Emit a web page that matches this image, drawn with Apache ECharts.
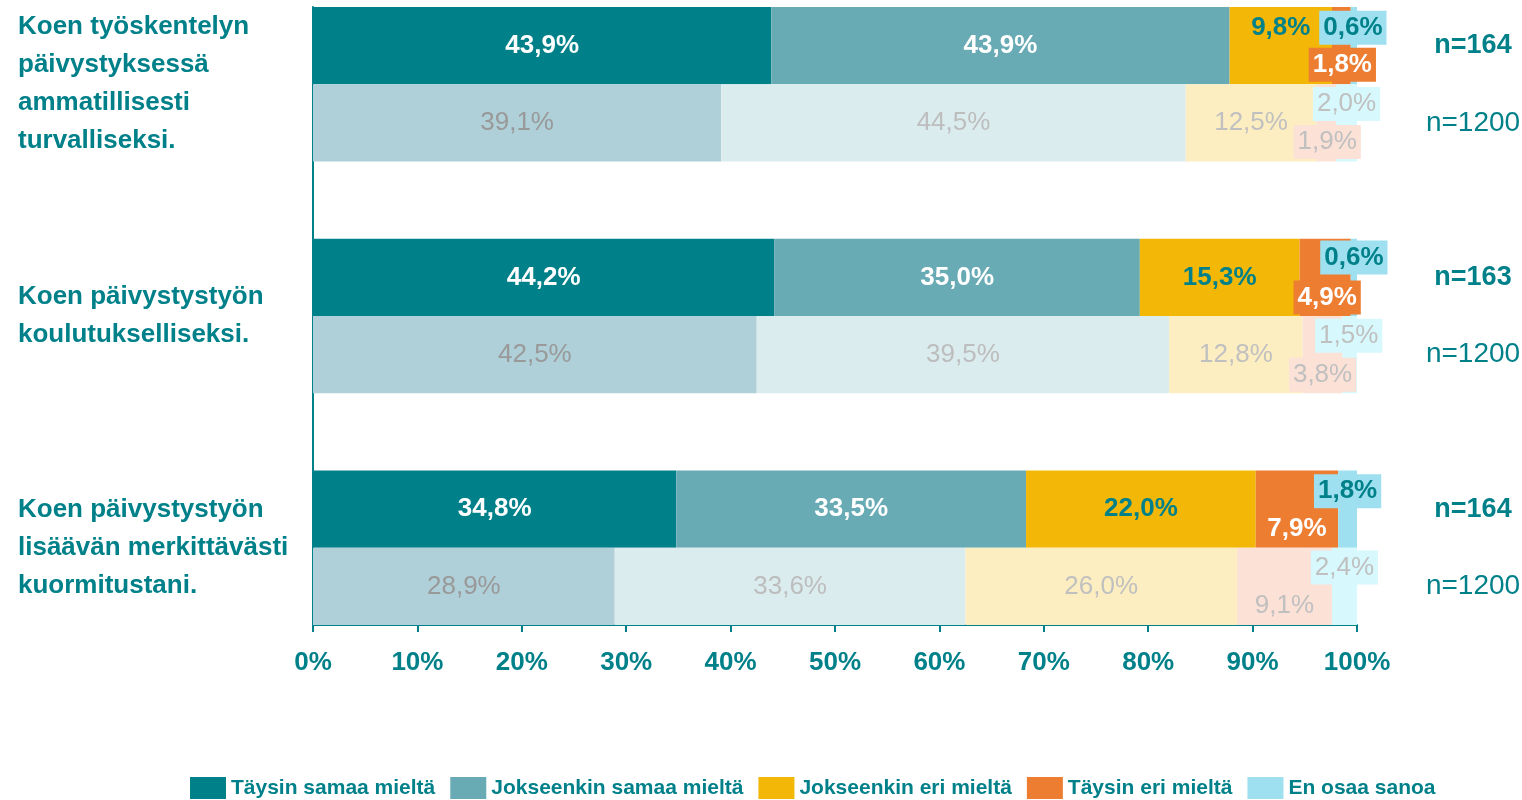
<!DOCTYPE html>
<html>
<head>
<meta charset="utf-8">
<script src="https://cdn.jsdelivr.net/npm/echarts@6/dist/echarts.min.js"></script>
<style>
html,body{margin:0;padding:0;background:#fff;}
#chart{width:1522px;height:800px;}
</style>
</head>
<body>
<div id="chart"></div>
<script>
// ---- data ----
const questions = [
  ['Koen työskentelyn', 'päivystyksessä', 'ammatillisesti', 'turvalliseksi.'],
  ['Koen päivystystyön', 'koulutukselliseksi.'],
  ['Koen päivystystyön', 'lisäävän merkittävästi', 'kuormitustani.']
];
const responses = ['Täysin samaa mieltä', 'Jokseenkin samaa mieltä', 'Jokseenkin eri mieltä', 'Täysin eri mieltä', 'En osaa sanoa'];
// study sample (dark bars)
const studyTaysinSamaa     = [43.9, 44.2, 34.8];
const studyJokseenkinSamaa = [43.9, 35.0, 33.5];
const studyJokseenkinEri   = [9.8, 15.3, 22.0];
const studyTaysinEri       = [1.8, 4.9, 7.9];
const studyEnOsaa          = [0.6, 0.6, 1.8];
const studyN = ['n=164', 'n=163', 'n=164'];
// reference sample (light bars)
const refTaysinSamaa     = [39.1, 42.5, 28.9];
const refJokseenkinSamaa = [44.5, 39.5, 33.6];
const refJokseenkinEri   = [12.5, 12.8, 26.0];
const refTaysinEri       = [1.9, 3.8, 9.1];
const refEnOsaa          = [2.0, 1.5, 2.4];
const refN = ['n=1200', 'n=1200', 'n=1200'];
const xTickValues = [0, 10, 20, 30, 40, 50, 60, 70, 80, 90, 100];

// ---- styles ----
const FONT = "'Liberation Sans Narrow','Arial Narrow','Liberation Sans',Arial,sans-serif";
const TEAL = '#00818A';
const darkColors  = ['#00818A', '#68ABB5', '#F3B707', '#ED7D31', '#9EE0F0'];
const lightColors = ['#AFD0D8', '#DBECEF', '#FDEEC1', '#FCE1D6', '#D7F8FC'];
const darkLabelColor = ['#fff', '#fff', TEAL, '#fff', TEAL];
const lightLabelColor = ['#999999', '#BDBDBD', '#C0C0C0', '#C0C0C0', '#C0C0C0'];
const darkLabelBg = [null, null, null, '#ED7D31', '#9EE0F0'];
const lightLabelBg = [null, null, null, '#FCE1D6', '#D7F8FC'];
// label offsets [series][group]
const darkOffsets = [
  [[0,0],[0,0],[0,0]],
  [[0,0],[0,0],[0,0]],
  [[0,-18],[0,0],[0,0]],
  [[1,19],[2,20],[0,20]],
  [[-1,-18],[0,-20],[0,-18]]
];
const lightOffsets = [
  [[0,0],[0,0],[0,0]],
  [[0,0],[0,0],[0,0]],
  [[0,0],[0,0],[0,0]],
  [[1,19],[0,20],[0,19]],
  [[0,-19],[-1,-19],[0,-19]]
];

const studySets = [studyTaysinSamaa, studyJokseenkinSamaa, studyJokseenkinEri, studyTaysinEri, studyEnOsaa];
const refSets = [refTaysinSamaa, refJokseenkinSamaa, refJokseenkinEri, refTaysinEri, refEnOsaa];

// category slots: study bar, reference bar, gap  (per question)
const slots = [];
const leftLabels = [];
const rightLabels = [];
questions.forEach((q, i) => {
  slots.push('s' + i, 'r' + i);
  // question text is placed on the study slot, pushed down by a spacer line
  leftLabels.push('{sp| }\n' + q.map(l => '{t|' + l + '}').join('\n'), '');
  rightLabels.push('{b|' + studyN[i] + '}', '{r|' + refN[i] + '}');
  if (i < questions.length - 1) { slots.push('g' + i); leftLabels.push(''); rightLabels.push(''); }
});

const fmt = v => v.toFixed(1).replace('.', ',') + '%';

function buildSeries(sets, isStudy) {
  return sets.map((vals, si) => {
    const data = slots.map(() => '-');
    vals.forEach((v, gi) => {
      const idx = gi * 3 + (isStudy ? 0 : 1);
      const off = (isStudy ? darkOffsets : lightOffsets)[si][gi];
      const bg = (isStudy ? darkLabelBg : lightLabelBg)[si];
      const lbl = { offset: off };
      if (bg) { lbl.backgroundColor = bg; lbl.padding = [1, 4, 1, 4]; }
      data[idx] = { value: v, label: lbl };
    });
    return {
      name: isStudy ? responses[si] : responses[si] + ' (n=1200)',
      type: 'bar',
      stack: 'total',
      barCategoryGap: 0,
      barGap: 0,
      itemStyle: { color: (isStudy ? darkColors : lightColors)[si] },
      label: {
        show: true,
        position: 'inside',
        formatter: p => fmt(p.value),
        fontFamily: FONT,
        fontSize: 26,
        lineHeight: 32,
        fontWeight: isStudy ? 'bold' : 'normal',
        color: isStudy ? darkLabelColor[si] : lightLabelColor[si]
      },
      emphasis: { disabled: true },
      data: data
    };
  });
}

const chart = echarts.init(document.getElementById('chart'), null, { renderer: 'canvas' });
chart.setOption({
  animation: false,
  backgroundColor: '#fff',
  grid: { left: 313, right: 165, top: 7, bottom: 175, containLabel: false, outerBoundsMode: 'none' },
  legend: {
    data: responses,
    left: 190,
    top: 777,
    padding: 0,
    icon: 'rect',
    itemWidth: 36,
    itemHeight: 22,
    itemGap: 15,
    textStyle: { fontFamily: FONT, fontSize: 21, fontWeight: 'bold', color: TEAL }
  },
  xAxis: {
    type: 'value',
    min: xTickValues[0],
    max: xTickValues[xTickValues.length - 1],
    interval: xTickValues[1] - xTickValues[0],
    axisLine: { show: true, lineStyle: { color: TEAL, width: 2 } },
    axisTick: { show: true, length: 7, lineStyle: { color: TEAL, width: 2 } },
    splitLine: { show: false },
    axisLabel: {
      formatter: '{value}%',
      margin: 25,
      fontFamily: FONT, fontSize: 26, fontWeight: 'bold', color: TEAL
    }
  },
  yAxis: [
    {
      type: 'category',
      inverse: true,
      data: slots,
      axisLine: { show: true, lineStyle: { color: TEAL, width: 2 } },
      axisTick: { show: false },
      axisLabel: {
        interval: 0,
        formatter: (v, i) => leftLabels[i],
        align: 'left',
        verticalAlign: 'middle',
        margin: 295,
        rich: {
          sp: { fontSize: 10, lineHeight: 77 },
          t: { fontFamily: FONT, fontSize: 26, lineHeight: 38, fontWeight: 'bold', color: TEAL }
        }
      }
    },
    {
      type: 'category',
      inverse: true,
      position: 'right',
      data: slots,
      axisLine: { show: false },
      axisTick: { show: false },
      axisLabel: {
        interval: 0,
        formatter: (v, i) => rightLabels[i],
        align: 'center',
        margin: 116,
        rich: {
          b: { fontFamily: FONT, fontSize: 27, fontWeight: 'bold', color: TEAL },
          r: { fontFamily: FONT, fontSize: 28, fontWeight: 'normal', color: TEAL }
        }
      }
    }
  ],
  series: buildSeries(studySets, true).concat(buildSeries(refSets, false))
});
</script>
</body>
</html>
